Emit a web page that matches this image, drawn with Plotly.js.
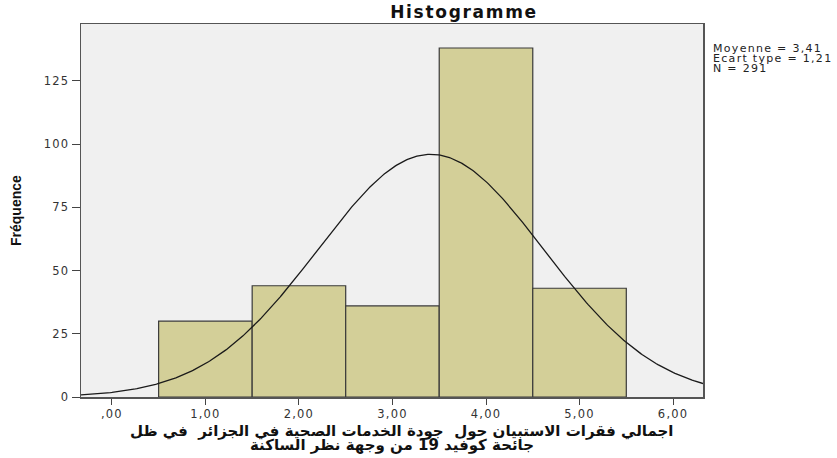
<!DOCTYPE html>
<html>
<head>
<meta charset="utf-8">
<script src="https://cdn.plot.ly/plotly-3.0.1.min.js"></script>
<style>
html,body{margin:0;padding:0;background:#fff;}
#chart{width:837px;height:458px;}
#chart .xtick text, #chart .ytick text{letter-spacing:1.2px;}
#chart .gtitle{letter-spacing:1.7px;}
#chart .annotation.stat text{letter-spacing:1.3px;}
</style>
</head>
<body>
<div id="chart"></div>
<script>
// Data
const binCenters = [1, 2, 3, 4, 5];
const binCounts = [30, 44, 36, 138, 43];
const tickValues = [0, 1, 2, 3, 4, 5, 6];
const tickLabels = [",00", "1,00", "2,00", "3,00", "4,00", "5,00", "6,00"];
const yTickValues = [0, 25, 50, 75, 100, 125];
const statMean = 3.41;
const statSd = 1.21;
const statN = 291;
const statLines = ["Moyenne = 3,41", "Ecart type = 1,21", "N = 291"];
const xTitleLines = ["اجمالي فقرات الاستبيان حول  جودة الخدمات الصحية في الجزائر  في ظل", "جائحة كوفيد 19 من وجهة نظر الساكنة"];

const xMin = -0.33, xMax = 6.32;
// fitted normal curve (from displayed mean, sd, N; bin width 1)
const curveX = [], curveY = [];
for (let i = 0; i <= 400; i++) {
  const x = xMin + (xMax - xMin) * i / 400;
  curveX.push(x);
  curveY.push(statN * 1 / (statSd * Math.sqrt(2 * Math.PI)) * Math.exp(-0.5 * Math.pow((x - statMean) / statSd, 2)));
}

const font = "DejaVu Sans, Liberation Sans, Arial, sans-serif";
const traces = [
  {type: 'bar', x: binCenters, y: binCounts, width: 1,
   marker: {color: '#d3cf98', line: {color: '#3a3a3a', width: 1.2}}, hoverinfo: 'skip'},
  {type: 'scatter', mode: 'lines', x: curveX, y: curveY,
   line: {color: '#1a1a1a', width: 1.3}, hoverinfo: 'skip'}
];

const annotations = statLines.map((t, i) => ({
  text: t, xref: 'paper', yref: 'paper', x: (711 - 81) / 622, y: (397 - 48 - i * 10.3) / 373,
  xanchor: 'left', yanchor: 'middle', align: 'left', showarrow: false,
  font: {family: font, size: 11, color: '#222'}
}));
annotations.push({
  text: '<b>Fréquence</b>', xref: 'paper', yref: 'paper', x: (16 - 81) / 622, y: (397 - 211) / 373,
  xanchor: 'center', yanchor: 'middle', textangle: -90, showarrow: false,
  font: {family: "Liberation Sans Narrow, Arial Narrow, Liberation Sans, Arial, sans-serif", size: 14, color: '#111'}
});
xTitleLines.forEach((t, i) => annotations.push({
  text: '<b>' + t + '</b>', xref: 'paper', yref: 'paper', x: (i === 0 ? 402 - 81 : 392 - 81) / 622,
  y: (397 - (431 + i * 14)) / 373,
  xanchor: 'center', yanchor: 'middle', showarrow: false,
  font: {family: "DejaVu Sans, sans-serif", size: 15, color: '#111'}
}));

const layout = {
  width: 837, height: 458,
  margin: {l: 81, r: 134, t: 24, b: 61},
  paper_bgcolor: '#ffffff', plot_bgcolor: '#f0f0f0',
  showlegend: false, bargap: 0,
  title: {text: '<b>Histogramme</b>', xref: 'paper', x: (464 - 81) / 622, xanchor: 'center',
          yref: 'container', y: 1 - 12 / 458, yanchor: 'middle',
          font: {family: font, size: 17, color: '#111'}},
  xaxis: {range: [xMin, xMax], tickvals: tickValues, ticktext: tickLabels,
          ticks: 'outside', ticklen: 6, tickcolor: '#444', tickwidth: 1,
          showgrid: false, zeroline: false, showline: true, linecolor: '#555', linewidth: 1.5, mirror: true,
          tickfont: {family: font, size: 11.5, color: '#333'}},
  yaxis: {range: [0, 147.5], tickvals: yTickValues,
          ticks: 'outside', ticklen: 8, tickcolor: '#444', tickwidth: 1,
          showgrid: false, zeroline: false, showline: true, linecolor: '#555', linewidth: 1.5, mirror: true,
          tickfont: {family: font, size: 11.5, color: '#333'}},
  annotations: annotations
};
Plotly.newPlot('chart', traces, layout, {staticPlot: true, displayModeBar: false}).then(() => {
  document.querySelectorAll('#chart .annotation').forEach((g, i) => {
    if (i < statLines.length) g.classList.add('stat');
  });
});
</script>
</body>
</html>
